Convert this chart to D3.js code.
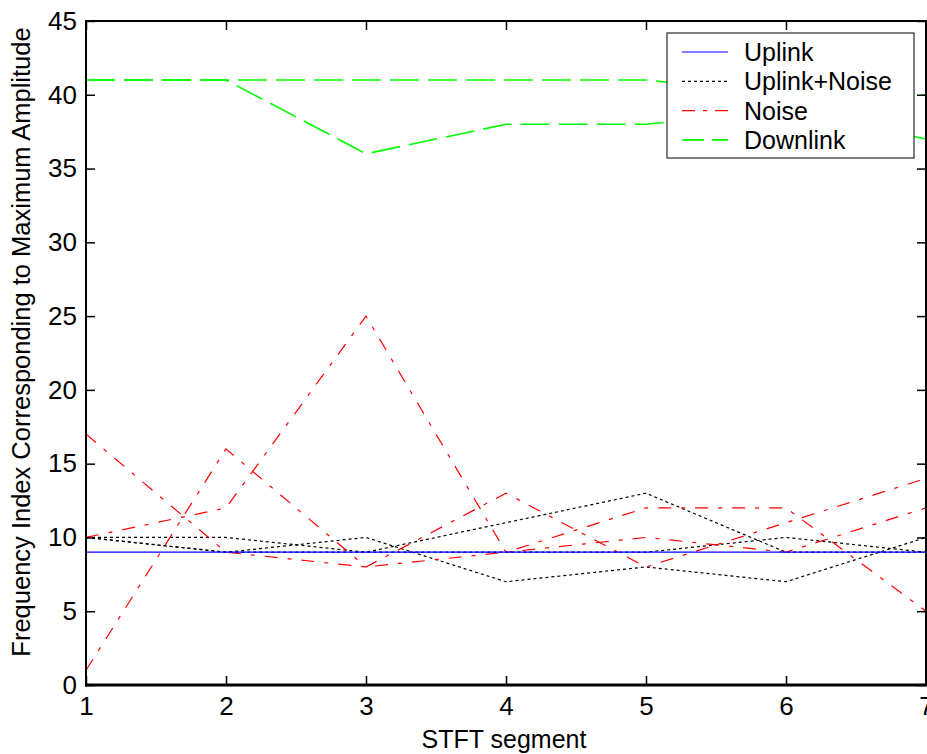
<html>
<head>
<meta charset="utf-8">
<title>STFT segment frequency index</title>
<script src="https://cdn.jsdelivr.net/npm/d3@7"></script>
<style>
  body { margin: 0; background: #fff; }
  text { font-family: "Liberation Sans", Arial, sans-serif; fill: #000; }
</style>
</head>
<body>
<svg id="chart"></svg>
<script>
// STFT segment index (x)
const segments = [1, 2, 3, 4, 5, 6, 7];
const xTicks = [1, 2, 3, 4, 5, 6, 7];
const yTicks = [0, 5, 10, 15, 20, 25, 30, 35, 40, 45];

// frequency index of max amplitude, one array per trace
const uplink = [9, 9, 9, 9, 9, 9, 9];
const uplinkNoise1 = [10, 10, 9, 11, 13, 9, 9];
const uplinkNoise2 = [10, 9, 10, 7, 8, 7, 10];
const uplinkNoise3 = [10, 9, 9, 9, 9, 10, 9];
const noise1 = [17, 9, 8, 9, 10, 9, 12];
const noise2 = [1, 16, 8, 13, 8, 11, 14];
const noise3 = [10, 12, 25, 9, 12, 12, 5];
const downlink1 = [41, 41, 41, 41, 41, 40, 40];
const downlink2 = [41, 41, 36, 38, 38, 39, 37];

const legendNames = ["Uplink", "Uplink+Noise", "Noise", "Downlink"];

const W = 927, H = 754;
const plotL = 86, plotR = 926, plotT = 21, plotB = 685;

const svg = d3.select('#chart').attr('width', W).attr('height', H);

const x = d3.scaleLinear().domain([1, 7]).range([plotL, plotR]);
const y = d3.scaleLinear().domain([0, 45]).range([plotB, plotT]);

const line = d3.line()
  .x((d, i) => x(segments[i]))
  .y(d => y(d));

// styles per series type
const styles = {
  "Uplink": { color: '#0000ff', dash: null, width: 1.2 },
  "Uplink+Noise": { color: '#000000', dash: '3,3', width: 1.2 },
  "Noise": { color: '#ff0000', dash: '13,10,4,10', width: 1.2 },
  "Downlink": { color: '#00ff00', dash: '29,9', width: 1.6 }
};

const traces = [
  { type: "Uplink+Noise", values: uplinkNoise1 },
  { type: "Uplink+Noise", values: uplinkNoise2 },
  { type: "Uplink+Noise", values: uplinkNoise3 },
  { type: "Noise", values: noise1 },
  { type: "Noise", values: noise2 },
  { type: "Noise", values: noise3 },
  { type: "Downlink", values: downlink1 },
  { type: "Downlink", values: downlink2 },
  { type: "Uplink", values: uplink }
];

svg.append('g').selectAll('path')
  .data(traces)
  .join('path')
  .attr('d', d => line(d.values))
  .attr('fill', 'none')
  .attr('stroke', d => styles[d.type].color)
  .attr('stroke-width', d => styles[d.type].width)
  .attr('stroke-dasharray', d => styles[d.type].dash);

// axes, ticks pointing inward
const xAxis = d3.axisBottom(x).tickValues(xTicks).tickSize(-9).tickSizeOuter(0).tickPadding(12).tickFormat(d3.format('d'));
const yAxis = d3.axisLeft(y).tickValues(yTicks).tickSize(-9).tickSizeOuter(0).tickPadding(9).tickFormat(d3.format('d'));

const gx = svg.append('g').attr('transform', `translate(0,${plotB})`).call(xAxis);
const gy = svg.append('g').attr('transform', `translate(${plotL},0)`).call(yAxis);
svg.append('g').attr('transform', `translate(0,${plotT})`)
  .call(d3.axisTop(x).tickValues(xTicks).tickSize(-9).tickSizeOuter(0).tickFormat(''));
svg.append('g').attr('transform', `translate(${plotR},0)`)
  .call(d3.axisRight(y).tickValues(yTicks).tickSize(-9).tickSizeOuter(0).tickFormat(''));

svg.selectAll('.domain').remove();
svg.selectAll('.tick line').attr('stroke', '#000').attr('stroke-width', 1.5);
gx.selectAll('text').style('font-size', '26px').attr('fill', '#000');
gy.selectAll('text').style('font-size', '26px').attr('fill', '#000');

// plot box
svg.append('path')
  .attr('d', `M${plotL},${plotT}H${plotR}V${plotB}`)
  .attr('fill', 'none').attr('stroke', '#000').attr('stroke-width', 2);
svg.append('line').attr('x1', plotL).attr('x2', plotL).attr('y1', plotT - 1).attr('y2', plotB + 1.5)
  .attr('stroke', '#000').attr('stroke-width', 2);
svg.append('line').attr('x1', plotL - 1).attr('x2', plotR + 1).attr('y1', plotB).attr('y2', plotB)
  .attr('stroke', '#000').attr('stroke-width', 3);

// axis labels
svg.append('text')
  .attr('x', (plotL + plotR) / 2 - 2).attr('y', 748)
  .attr('text-anchor', 'middle')
  .style('font-size', '25px')
  .text('STFT segment');

svg.append('text')
  .attr('transform', 'translate(30,342) rotate(-90)')
  .attr('text-anchor', 'middle')
  .style('font-size', '25.5px')
  .text('Frequency Index Corresponding to Maximum Amplitude');

// legend
const legend = svg.append('g');
legend.append('rect')
  .attr('x', 667).attr('y', 33).attr('width', 247).attr('height', 125)
  .attr('fill', '#fff').attr('stroke', '#000').attr('stroke-width', 1);

const item = legend.selectAll('g.item')
  .data(legendNames)
  .join('g')
  .attr('class', 'item')
  .attr('transform', (d, i) => `translate(0,${52 + i * 29.3})`);

item.append('line')
  .attr('x1', 682).attr('x2', 728).attr('y1', 0).attr('y2', 0)
  .attr('stroke', d => styles[d].color)
  .attr('stroke-width', d => d === 'Downlink' ? 1.6 : 1.2)
  .attr('stroke-dasharray', d => d === 'Noise' ? '13,8,4,8' : d === 'Downlink' ? '22,8' : styles[d].dash);

item.append('text')
  .attr('x', 744).attr('y', 9)
  .style('font-size', '25px')
  .text(d => d);
</script>
</body>
</html>
